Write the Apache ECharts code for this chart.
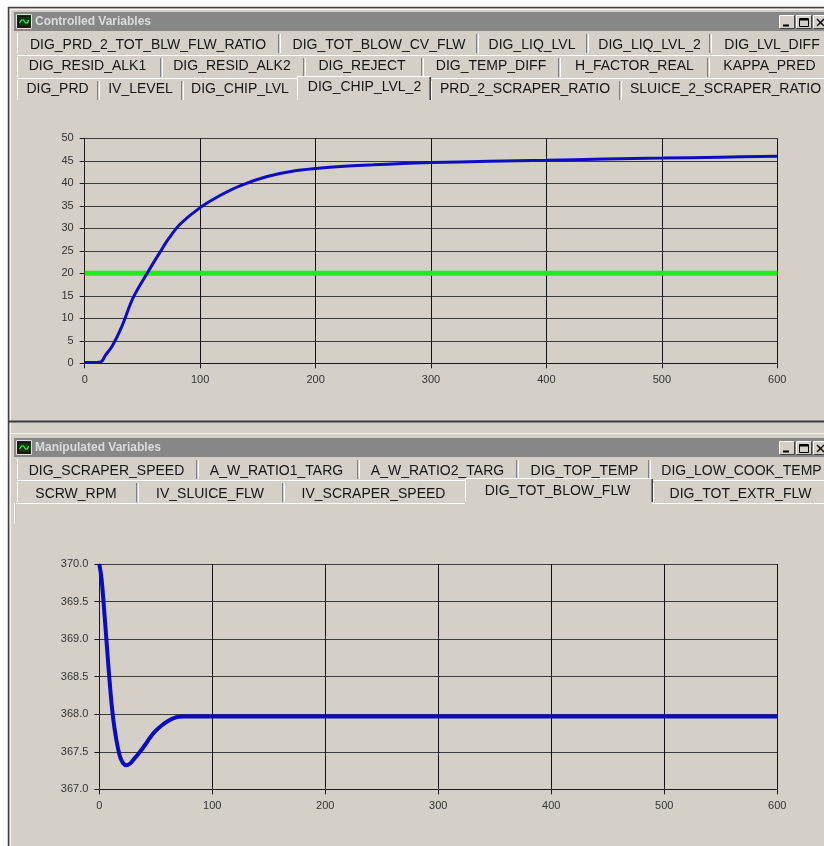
<!DOCTYPE html>
<html>
<head>
<meta charset="utf-8">
<script src="https://cdn.jsdelivr.net/npm/echarts@6/dist/echarts.min.js"></script>
<style>
html,body{margin:0;padding:0;background:#ffffff;}
#c{width:824px;height:846px;}
</style>
</head>
<body>
<div id="c"></div>
<script>
// ---------- data ----------
var cvTime   = [0, 5, 10, 14, 18, 24, 32, 42, 55, 65, 73, 83, 100, 118, 135, 158, 180, 200, 225, 250, 275, 300, 350, 400, 450, 500, 550, 600];
var cvValue  = [0.2, 0.2, 0.2, 0.3, 1.8, 3.9, 8.1, 14.6, 20.4, 24.6, 27.8, 31.0, 34.6, 37.4, 39.5, 41.5, 42.7, 43.3, 43.8, 44.1, 44.4, 44.6, 44.9, 45.1, 45.4, 45.6, 45.8, 46.0];
var cvLimitTime  = [0, 600];
var cvLimitValue = [20, 20];

var mvTime  = [0, 2, 5, 8, 11, 14, 18, 21, 24, 27, 30, 35, 40, 45, 50, 56, 62, 68, 74, 80, 100, 200, 300, 400, 500, 600];
var mvValue = [370.0, 369.8, 369.25, 368.65, 368.12, 367.76, 367.45, 367.35, 367.32, 367.34, 367.39, 367.48, 367.58, 367.69, 367.78, 367.86, 367.92, 367.96, 367.97, 367.97, 367.97, 367.97, 367.97, 367.97, 367.97, 367.97];

var xTicks   = [0, 100, 200, 300, 400, 500, 600];
var cvYTicks = [0, 5, 10, 15, 20, 25, 30, 35, 40, 45, 50];
var mvYTicks = [367.0, 367.5, 368.0, 368.5, 369.0, 369.5, 370.0];

var topTitle = "Controlled Variables";
var botTitle = "Manipulated Variables";
var topTabs = [
  ["DIG_PRD_2_TOT_BLW_FLW_RATIO", "DIG_TOT_BLOW_CV_FLW", "DIG_LIQ_LVL", "DIG_LIQ_LVL_2", "DIG_LVL_DIFF"],
  ["DIG_RESID_ALK1", "DIG_RESID_ALK2", "DIG_REJECT", "DIG_TEMP_DIFF", "H_FACTOR_REAL", "KAPPA_PRED"],
  ["DIG_PRD", "IV_LEVEL", "DIG_CHIP_LVL", "DIG_CHIP_LVL_2", "PRD_2_SCRAPER_RATIO", "SLUICE_2_SCRAPER_RATIO"]
];
var botTabs = [
  ["DIG_SCRAPER_SPEED", "A_W_RATIO1_TARG", "A_W_RATIO2_TARG", "DIG_TOP_TEMP", "DIG_LOW_COOK_TEMP"],
  ["SCRW_RPM", "IV_SLUICE_FLW", "IV_SCRAPER_SPEED", "DIG_TOT_BLOW_FLW", "DIG_TOT_EXTR_FLW"]
];

// ---------- layout (positions only) ----------
var topTabCenters = [[148, 379, 532, 649.5, 772], [87.5, 232, 362, 491, 634.5, 769.5], [57.5, 140.5, 240, 364.5, 525, 725.5]];
var topTabRowY = [45, 66.5, 89];
var topTabSeps = [[279, 477, 587, 710], [161, 304, 422, 559, 708], [98, 182, 430, 620]];
var topSel = {row: 2, idx: 3, x1: 297, x2: 430, y: 87};
var botTabCenters = [[106.5, 276.5, 437.5, 584.5, 741.5], [76, 210, 373.5, 557.5, 740.5]];
var botTabRowY = [471.5, 494];
var botTabSeps = [[197, 358, 517, 649], [137, 283, 652]];
var botSel = {row: 1, idx: 3, x1: 465, x2: 652, y: 491.5};

var FONT = '"Liberation Sans", Arial, sans-serif';
var els = [];
function rect(x, y, w, h, fill, stroke) {
  els.push({type: 'rect', silent: true, shape: {x: x, y: y, width: w, height: h}, style: {fill: fill || 'none', stroke: stroke || null, lineWidth: 1}});
}
function line(x1, y1, x2, y2, col, w) {
  els.push({type: 'line', silent: true, shape: {x1: x1, y1: y1, x2: x2, y2: y2}, style: {stroke: col, lineWidth: w || 1}});
}
function text(t, x, y, font, fill, align) {
  els.push({type: 'text', silent: true, style: {text: t, x: x, y: y, font: font, fill: fill,
    textAlign: align || 'center', textVerticalAlign: 'middle', align: align || 'center', verticalAlign: 'middle'}});
}

// page white margins + window frame
rect(0, 0, 824, 7, '#ffffff');
rect(0, 0, 8, 846, '#ffffff');
line(8.5, 7, 8.5, 846, '#404040', 1.5);
line(8, 7.5, 824, 7.5, '#404040', 1.5);
line(10.5, 9, 10.5, 846, '#f4f3ef', 1);
line(10, 9.5, 824, 9.5, '#f4f3ef', 1);

function titleBar(y, title) {
  rect(14, y, 810, 19, '#878787');
  // icon
  rect(16.5, y + 2.5, 15, 14, '#0b2e0b', '#e0e0e0');
  rect(18.5, y + 4.5, 11, 10, '#0a3a12', '#111111');
  els.push({type: 'polyline', silent: true, shape: {points: [[19.5, y + 11], [21.5, y + 8], [23.5, y + 8], [25.5, y + 11], [27.5, y + 11], [28.5, y + 8]]}, style: {stroke: '#5cf05c', lineWidth: 1.2, fill: 'none'}});
  text(title, 35, y + 9.5, 'bold 12px ' + FONT, '#dcdcdc', 'left');
  // buttons
  var bx = [779, 796, 813];
  for (var i = 0; i < 3; i++) {
    rect(bx[i] + 0.5, y + 3.5, 15, 13, '#d4d0c8', null);
    line(bx[i] + 0.5, y + 3.5, bx[i] + 15.5, y + 3.5, '#ffffff');
    line(bx[i] + 0.5, y + 3.5, bx[i] + 0.5, y + 16.5, '#ffffff');
    line(bx[i] + 15.5, y + 3.5, bx[i] + 15.5, y + 16.5, '#404040');
    line(bx[i] + 0.5, y + 16.5, bx[i] + 15.5, y + 16.5, '#404040');
  }
  line(783, y + 13.5, 789, y + 13.5, '#000000', 2);
  rect(799.5, y + 6.5, 9, 8, 'none', '#000000');
  line(800, y + 7.5, 808, y + 7.5, '#000000', 2);
  line(817, y + 7, 824, y + 14, '#000000', 1.5);
  line(824, y + 7, 817, y + 14, '#000000', 1.5);
}

function tabRows(rows, centers, rowY, seps, sel, rowTops) {
  for (var r = 0; r < rows.length; r++) {
    var top = rowTops[r];
    if (r > 0) line(17, top + 0.5, 824, top + 0.5, '#ffffff');
    line(17.5, top + 2, 17.5, top + 22, '#ffffff');
    for (var s = 0; s < seps[r].length; s++) {
      line(seps[r][s] - 0.5, top + 3, seps[r][s] - 0.5, top + 22, '#808080');
      line(seps[r][s] + 1.5, top + 3, seps[r][s] + 1.5, top + 22, '#ffffff');
    }
    for (var k = 0; k < rows[r].length; k++) {
      var y = rowY[r];
      if (sel.row === r && sel.idx === k) y = sel.y;
      text(rows[r][k], centers[r][k], y, '14px ' + FONT, '#151515', 'center');
    }
  }
  var st = rowTops[sel.row] - 2;
  rect(sel.x1, st, sel.x2 - sel.x1, 24, '#d4d0c8');
  line(sel.x1, st + 0.5, sel.x2, st + 0.5, '#ffffff');
  line(sel.x1 + 0.5, st, sel.x1 + 0.5, st + 24, '#ffffff');
  line(sel.x2 - 0.5, st + 1, sel.x2 - 0.5, st + 24, '#808080');
  line(sel.x2 + 0.5, st + 1, sel.x2 + 0.5, st + 24, '#404040');
  var r2 = sel.row, k2 = sel.idx;
  text(rows[r2][k2], centers[r2][k2], sel.y, '14px ' + FONT, '#151515', 'center');
}

titleBar(12, topTitle);
tabRows(topTabs, topTabCenters, topTabRowY, topTabSeps, topSel, [31, 55, 78]);

// separator between the two windows
line(9, 421.5, 824, 421.5, '#3a3a3a', 2);
line(10, 433.5, 824, 433.5, '#f4f3ef', 1);

titleBar(438, botTitle);
tabRows(botTabs, botTabCenters, botTabRowY, botTabSeps, botSel, [457, 480]);
line(14, 503.5, botSel.x1, 503.5, '#ffffff');
line(botSel.x2, 503.5, 824, 503.5, '#ffffff');
line(14.5, 503, 14.5, 524, '#ffffff');
line(15.5, 503, 15.5, 524, '#c8c5bd');

function axisCommon(min, max, interval, dec, splitCol) {
  return {
    type: 'value', min: min, max: max, interval: interval,
    axisLine: {show: true, onZero: false, lineStyle: {color: '#1a1a1a', width: 1}},
    axisTick: {show: true, length: 5, lineStyle: {color: '#1a1a1a'}},
    splitLine: {show: true, lineStyle: {color: splitCol, width: 1}},
    axisLabel: {
      color: '#333333', fontSize: 11, fontFamily: FONT, margin: 11,
      formatter: function (v) { return dec ? v.toFixed(dec) : String(v); }
    }
  };
}

function pairs(xs, ys) { return xs.map(function (x, i) { return [x, ys[i]]; }); }

var option = {
  backgroundColor: '#d4d0c8',
  animation: false,
  grid: [
    {left: 84.7, right: 46.7, top: 138.3, height: 225},
    {left: 99.3, right: 46.7, top: 564, height: 225.3}
  ],
  xAxis: [
    Object.assign(axisCommon(xTicks[0], xTicks[xTicks.length - 1], 100, 0, '#111111'), {gridIndex: 0}),
    Object.assign(axisCommon(xTicks[0], xTicks[xTicks.length - 1], 100, 0, '#111111'), {gridIndex: 1})
  ],
  yAxis: [
    Object.assign(axisCommon(cvYTicks[0], cvYTicks[cvYTicks.length - 1], 5, 0, '#3c3c3c'), {gridIndex: 0}),
    Object.assign(axisCommon(mvYTicks[0], mvYTicks[mvYTicks.length - 1], 0.5, 1, '#3c3c3c'), {gridIndex: 1})
  ],
  series: [
    {type: 'line', xAxisIndex: 0, yAxisIndex: 0, data: pairs(cvLimitTime, cvLimitValue), showSymbol: false,
      lineStyle: {color: '#1ced1c', width: 5}, silent: true},
    {type: 'line', xAxisIndex: 0, yAxisIndex: 0, data: pairs(cvTime, cvValue), showSymbol: false, smooth: 0.35,
      lineStyle: {color: '#0d0dc2', width: 3}, silent: true},
    {type: 'line', xAxisIndex: 1, yAxisIndex: 1, data: pairs(mvTime, mvValue), showSymbol: false, smooth: 0.35,
      lineStyle: {color: '#0b0bbf', width: 4}, silent: true}
  ],
  graphic: {elements: els}
};

var chart = echarts.init(document.getElementById('c'), null, {renderer: 'canvas', width: 824, height: 846});
chart.setOption(option);
</script>
</body>
</html>
